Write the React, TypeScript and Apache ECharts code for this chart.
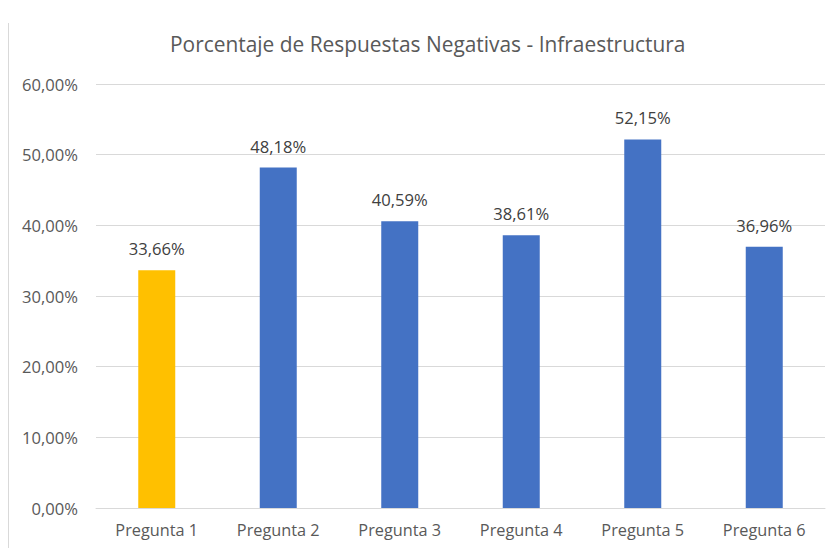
import React, { useEffect, useRef } from "react";
import * as echarts from "echarts";

const categories = ["Pregunta 1", "Pregunta 2", "Pregunta 3", "Pregunta 4", "Pregunta 5", "Pregunta 6"];
const values = [33.66, 48.18, 40.59, 38.61, 52.15, 36.96];
const barColors = ["#FFC000", "#4472C4", "#4472C4", "#4472C4", "#4472C4", "#4472C4"];
const titleText = "Porcentaje de Respuestas Negativas - Infraestructura";

const fmt = (v: number) => v.toFixed(2).replace(".", ",") + "%";
const FONT = "'Open Sans', sans-serif";

export default function App() {
  const ref = useRef<HTMLDivElement>(null);
  useEffect(() => {
    if (!ref.current) return;
    const chart = echarts.init(ref.current, undefined, { renderer: "svg" });
    chart.setOption({
      animation: false,
      backgroundColor: "#ffffff",
      title: {
        text: titleText,
        left: 165,
        top: 28,
        textStyle: { fontFamily: FONT, fontSize: 20.9, fontWeight: "normal", color: "#595959" },
      },
      grid: { left: 96, right: 8, top: 84, bottom: 40, containLabel: false },
      xAxis: {
        type: "category",
        data: categories,
        axisLine: { show: true, lineStyle: { color: "#D9D9D9", width: 1 } },
        axisTick: { show: false },
        axisLabel: { fontFamily: FONT, fontSize: 16.3, color: "#595959", margin: 14 },
      },
      yAxis: {
        type: "value",
        min: 0,
        max: 60,
        interval: 10,
        axisLine: { show: false },
        axisTick: { show: false },
        splitLine: { lineStyle: { color: "#D9D9D9", width: 1 } },
        axisLabel: { fontFamily: FONT, fontSize: 16.6, color: "#595959", margin: 18, formatter: (v: number) => fmt(v) },
      },
      series: [
        {
          type: "bar",
          barWidth: 37,
          data: values.map((v, i) => ({ value: v, itemStyle: { color: barColors[i] } })),
          label: {
            show: true,
            position: "top",
            distance: 13,
            fontFamily: FONT,
            fontSize: 16.6,
            color: "#404040",
            formatter: (p: any) => fmt(p.value),
          },
        },
      ],
      graphic: [
        {
          type: "line",
          shape: { x1: 8.5, y1: 23, x2: 8.5, y2: 548 },
          style: { stroke: "#D9D9D9", lineWidth: 1 },
        },
      ],
    });
    return () => chart.dispose();
  }, []);
  return <div ref={ref} style={{ position: "fixed", left: 0, top: 0, width: 833, height: 548 }} />;
}
